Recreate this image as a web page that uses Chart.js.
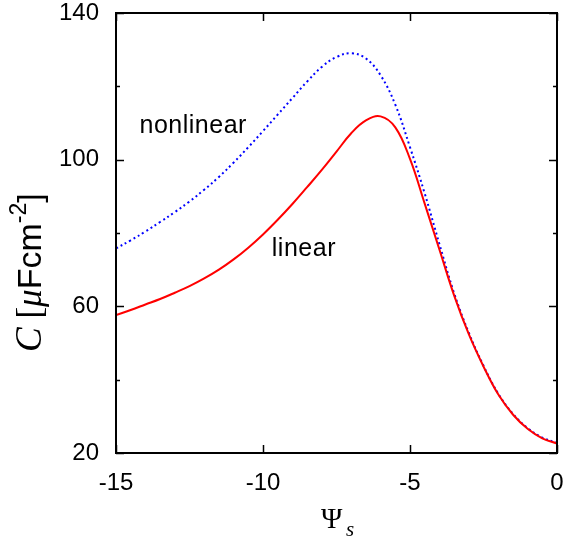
<!DOCTYPE html>
<html>
<head>
<meta charset="utf-8">
<script src="https://cdn.jsdelivr.net/npm/chart.js@4.4.0/dist/chart.umd.min.js"></script>
<style>
  html, body { margin: 0; padding: 0; background: #fff; }
  #wrap { width: 563px; height: 541px; }
</style>
</head>
<body>
<div id="wrap"><canvas id="capChart"></canvas></div>
<script>
// surface potential grid (step 0.5) and the two capacitance curves
var psi = [-15, -14.5, -14, -13.5, -13, -12.5, -12, -11.5, -11, -10.5, -10, -9.5, -9, -8.5, -8, -7.5, -7, -6.5, -6, -5.5, -5, -4.5, -4, -3.5, -3, -2.5, -2, -1.5, -1, -0.5, 0];
var linearC = [57.6, 59.0, 60.5, 62.0, 63.7, 65.5, 67.6, 70.0, 72.8, 76.0, 79.6, 83.6, 87.9, 92.5, 97.2, 102.2, 107.2, 110.7, 111.8, 108.8, 100.2, 88.0, 75.5, 63.0, 52.4, 43.6, 36.0, 30.5, 26.6, 24.0, 22.6];
var nonlinearC = [75.8, 78.0, 80.4, 83.0, 85.7, 88.6, 91.8, 95.3, 99.2, 103.4, 107.8, 112.3, 116.8, 121.3, 125.3, 128.0, 129.0, 127.6, 123.0, 115.0, 103.4, 90.8, 77.0, 63.6, 52.8, 43.8, 36.2, 30.7, 26.8, 24.2, 22.8];

var xTicks = [-15, -10, -5, 0];
var yTicks = [20, 60, 100, 140];
var yMinor = [40, 80, 120];

var curveLabels = [
  { text: 'nonlinear', x: -14.2, y: 107.3 },
  { text: 'linear', x: -9.7, y: 73.7 }
];

function pts(ys) {
  return psi.map(function(x, i) { return { x: x, y: ys[i] }; });
}

var sans = '"Liberation Sans", Arial, sans-serif';
var serif = '"Liberation Serif", "Times New Roman", serif';

var framePlugin = {
  id: 'framePlugin',
  afterDraw: function(chart) {
    var ctx = chart.ctx, a = chart.chartArea;
    var xs = chart.scales.x, ys = chart.scales.y;
    ctx.save();
    ctx.strokeStyle = '#000';
    ctx.lineWidth = 2;
    ctx.strokeRect(a.left, a.top, a.right - a.left, a.bottom - a.top);

    ctx.lineWidth = 1.5;
    ctx.beginPath();
    xTicks.forEach(function(v) {
      var px = Math.round(xs.getPixelForValue(v)) + 0.5;
      ctx.moveTo(px, a.bottom); ctx.lineTo(px, a.bottom - 8);
      ctx.moveTo(px, a.top); ctx.lineTo(px, a.top + 8);
    });
    yTicks.forEach(function(v) {
      var py = Math.round(ys.getPixelForValue(v)) + 0.5;
      ctx.moveTo(a.left, py); ctx.lineTo(a.left + 8, py);
      ctx.moveTo(a.right, py); ctx.lineTo(a.right - 8, py);
    });
    yMinor.forEach(function(v) {
      var py = Math.round(ys.getPixelForValue(v)) + 0.5;
      ctx.moveTo(a.left, py); ctx.lineTo(a.left + 4, py);
      ctx.moveTo(a.right, py); ctx.lineTo(a.right - 4, py);
    });
    ctx.stroke();

    // curve names
    ctx.fillStyle = '#000';
    ctx.font = '25px ' + sans;
    ctx.letterSpacing = '0.5px';
    ctx.textBaseline = 'alphabetic';
    ctx.textAlign = 'left';
    curveLabels.forEach(function(l) {
      ctx.fillText(l.text, xs.getPixelForValue(l.x), ys.getPixelForValue(l.y));
    });
    ctx.letterSpacing = '0px';

    // x axis title: Psi_s
    ctx.font = '29px ' + serif;
    ctx.fillText('\u03A8', 321, 528);
    ctx.font = 'italic 21px ' + serif;
    ctx.fillText('s', 346, 536);

    // y axis title: C [muFcm^-2]
    ctx.translate(41, 352);
    ctx.rotate(-Math.PI / 2);
    var parts = [
      { t: 'C', f: 'italic 37px ' + serif, dy: 0 },
      { t: ' [', f: '35px ' + serif, dy: 0 },
      { t: '\u03BC', f: 'italic 35px ' + serif, dy: 0 },
      { t: 'Fcm', f: '34px ' + sans, dy: 0 },
      { t: '-2', f: '23px ' + sans, dy: -15 },
      { t: ']', f: '34px ' + sans, dy: 0 }
    ];
    var cx = 0;
    parts.forEach(function(p) {
      ctx.font = p.f;
      ctx.fillText(p.t, cx, p.dy);
      cx += ctx.measureText(p.t).width;
    });
    ctx.restore();
  }
};

new Chart(document.getElementById('capChart'), {
  type: 'line',
  data: {
    datasets: [{
      label: 'linear',
      data: pts(linearC),
      borderColor: '#ff0000',
      borderWidth: 2,
      pointRadius: 0,
      tension: 0.4,
      fill: false
    }, {
      label: 'nonlinear',
      data: pts(nonlinearC),
      borderColor: '#0000ff',
      borderWidth: 2,
      borderDash: [2, 3],
      pointRadius: 0,
      tension: 0.4,
      fill: false
    }]
  },
  options: {
    responsive: true, maintainAspectRatio: false, animation: false,
    layout: { padding: { top: 13, right: 6, left: 0, bottom: 0 } },
    plugins: { legend: { display: false }, tooltip: { enabled: false } },
    scales: {
      x: {
        type: 'linear', min: -15, max: 0,
        grid: { display: false, drawTicks: false },
        border: { display: false },
        ticks: { stepSize: 5, padding: 16, color: '#000', font: { family: sans, size: 24 } },
        afterFit: function(s) { s.height = 88; s.paddingLeft = 0; s.paddingRight = 0; }
      },
      y: {
        min: 20, max: 140,
        grid: { display: false, drawTicks: false },
        border: { display: false },
        ticks: { stepSize: 40, padding: 17, color: '#000', font: { family: sans, size: 24 } },
        afterFit: function(s) { s.width = 116; s.paddingTop = 0; s.paddingBottom = 0; }
      }
    }
  },
  plugins: [framePlugin]
});
</script>
</body>
</html>
